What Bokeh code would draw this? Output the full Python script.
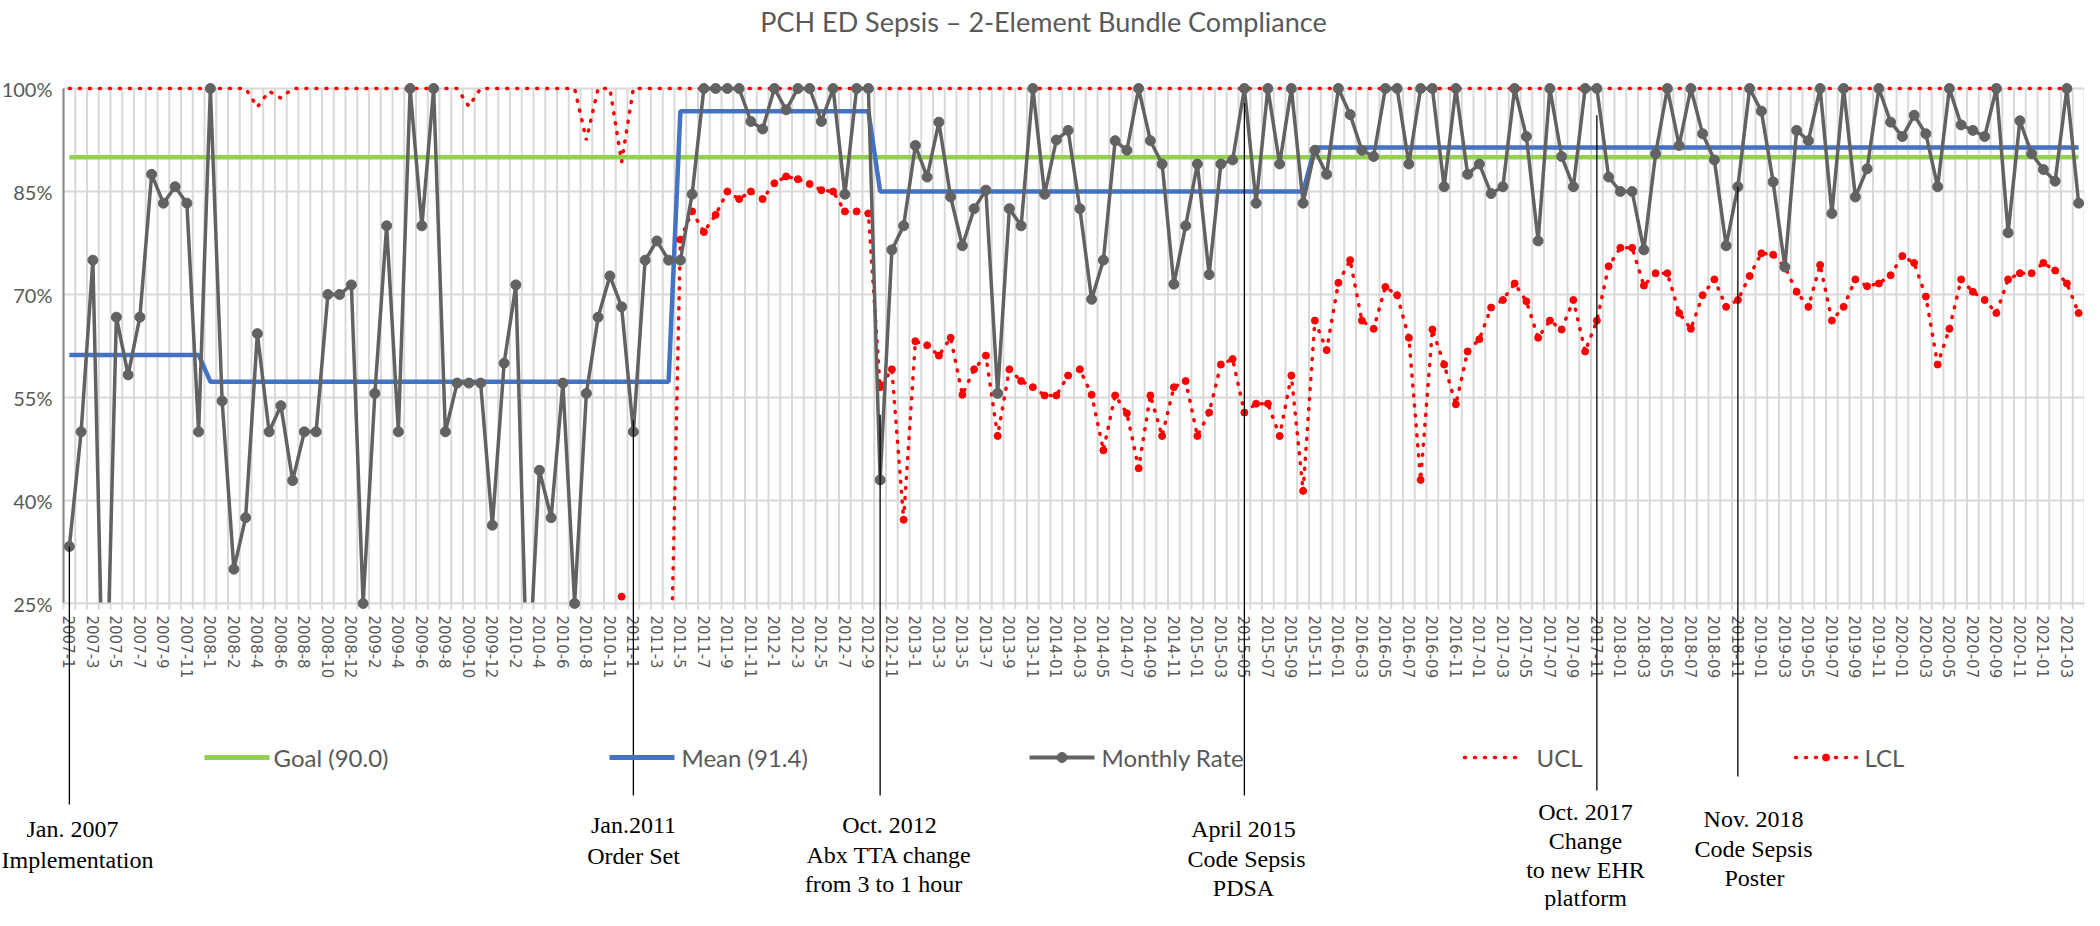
import math
from bokeh.plotting import figure
from bokeh.models import Range1d, Label
from bokeh.embed import file_html
from bokeh.resources import INLINE
from bokeh.core.properties import value

# ---------------- data ----------------
title_text = "PCH ED Sepsis \u2013 2-Element Bundle Compliance"

tick_labels = [
    "2007-1", "2007-3", "2007-5", "2007-7", "2007-9", "2007-11",
    "2008-1", "2008-2", "2008-4", "2008-6", "2008-8", "2008-10", "2008-12",
    "2009-2", "2009-4", "2009-6", "2009-8", "2009-10", "2009-12",
    "2010-2", "2010-4", "2010-6", "2010-8", "2010-11",
    "2011-1", "2011-3", "2011-5", "2011-7", "2011-9", "2011-11",
    "2012-1", "2012-3", "2012-5", "2012-7", "2012-9", "2012-11",
    "2013-1", "2013-3", "2013-5", "2013-7", "2013-9", "2013-11",
    "2014-01", "2014-03", "2014-05", "2014-07", "2014-09", "2014-11",
    "2015-01", "2015-03", "2015-05", "2015-07", "2015-09", "2015-11",
    "2016-01", "2016-03", "2016-05", "2016-07", "2016-09", "2016-11",
    "2017-01", "2017-03", "2017-05", "2017-07", "2017-09", "2017-11",
    "2018-01", "2018-03", "2018-05", "2018-07", "2018-09", "2018-11",
    "2019-01", "2019-03", "2019-05", "2019-07", "2019-09", "2019-11",
    "2020-01", "2020-03", "2020-05", "2020-07", "2020-09", "2020-11",
    "2021-01", "2021-03",
]

monthly_rate = [
    33.3, 50, 75, 0, 66.7, 58.3, 66.7, 87.5, 83.3, 85.7,
    83.3, 50, 100, 54.5, 30, 37.5, 64.3, 50, 53.8, 42.9,
    50, 50, 70, 70, 71.4, 25, 55.6, 80, 50, 100,
    80, 100, 50, 57.1, 57.1, 57.1, 36.4, 60, 71.4, 11.1,
    44.4, 37.5, 57.1, 25, 55.6, 66.7, 72.7, 68.2, 50, 75,
    77.8, 75, 75, 84.6, 100, 100, 100, 100, 95.2, 94.1,
    100, 96.9, 100, 100, 95.2, 100, 84.6, 100, 100, 43,
    76.5, 80, 91.7, 87.1, 95.1, 84.2, 77.1, 82.5, 85.2, 55.6,
    82.5, 80, 100, 84.6, 92.5, 93.9, 82.5, 69.3, 75, 92.4,
    91, 100, 92.4, 89, 71.5, 80, 89, 72.9, 89, 89.6,
    100, 83.3, 100, 89, 100, 83.3, 91, 87.5, 100, 96.2,
    91, 90.1, 100, 100, 89, 100, 100, 85.7, 100, 87.5,
    89, 84.7, 85.7, 100, 93, 77.8, 100, 90.1, 85.7, 100,
    100, 87.1, 85, 85, 76.5, 90.5, 100, 91.7, 100, 93.4,
    89.6, 77.1, 85.7, 100, 96.7, 86.4, 74, 93.9, 92.4, 100,
    81.8, 100, 84.2, 88.3, 100, 95.1, 93, 96.1, 93.4, 85.7,
    100, 94.7, 93.9, 93, 100, 79, 95.3, 90.5, 88.2, 86.5,
    100, 83.3,
]

ucl = [
    100, 100, 100, 100, 100, 100, 100, 100, 100, 100,
    100, 100, 100, 100, 100, 100, 97.3, 99.6, 98.6, 100,
    100, 100, 100, 100, 100, 100, 100, 100, 100, 100,
    100, 100, 100, 100, 97.4, 100, 100, 100, 100, 100,
    100, 100, 100, 100, 92.5, 100, 100, 89.3, 100, 100,
    100, 100, 100, 100, 100, 100, 100, 100, 100, 100,
    100, 100, 100, 100, 100, 100, 100, 100, 100, 100,
    100, 100, 100, 100, 100, 100, 100, 100, 100, 100,
    100, 100, 100, 100, 100, 100, 100, 100, 100, 100,
    100, 100, 100, 100, 100, 100, 100, 100, 100, 100,
    100, 100, 100, 100, 100, 100, 100, 100, 100, 100,
    100, 100, 100, 100, 100, 100, 100, 100, 100, 100,
    100, 100, 100, 100, 100, 100, 100, 100, 100, 100,
    100, 100, 100, 100, 100, 100, 100, 100, 100, 100,
    100, 100, 100, 100, 100, 100, 100, 100, 100, 100,
    100, 100, 100, 100, 100, 100, 100, 100, 100, 100,
    100, 100, 100, 100, 100, 100, 100, 100, 100, 100,
    100, 100,
]

lcl = [
    0, 0, 0, 0, 0, 0, 0, 0, 0, 0,
    0, 0, 0, 0, 0, 0, 0, 0, 0, 0,
    0, 0, 0, 0, 0, 0, 0, 0, 0, 0,
    0, 0, 0, 0, 0, 0, 0, 0, 0, 0,
    0, 0, 0, 0, 0, 0, 0, 26, 0, 0,
    0, 0, 78, 82.1, 79.1, 81.6, 85, 83.9, 85, 83.9,
    86.2, 87.2, 86.8, 86.1, 85.2, 85, 82.1, 82.1, 81.8, 56.5,
    59.1, 37.2, 63.2, 62.6, 61.1, 63.7, 55.4, 59.1, 61.1, 49.4,
    59.1, 57.4, 56.5, 55.3, 55.3, 58.2, 59.1, 55.4, 47.3, 55.3,
    52.7, 44.7, 55.3, 49.4, 56.5, 57.4, 49.4, 52.8, 59.8, 60.6,
    52.8, 54.1, 54.1, 49.4, 58.2, 41.4, 66.2, 61.9, 71.7, 75,
    66.2, 65, 71.1, 69.9, 63.7, 43, 64.9, 59.8, 54, 61.7,
    63.5, 68.1, 69.2, 71.6, 69, 63.7, 66.2, 64.9, 69.2, 61.7,
    66.2, 74.1, 76.8, 76.8, 71.3, 73.1, 73.1, 67.3, 65, 69.9,
    72.2, 68.2, 69.2, 72.7, 76, 75.8, 74, 70.4, 68.2, 74.3,
    66.2, 68.2, 72.2, 71.2, 71.6, 72.8, 75.6, 74.6, 69.7, 59.8,
    65, 72.2, 70.4, 69.2, 67.3, 72.2, 73.1, 73.1, 74.6, 73.5,
    71.6, 67.3,
]

goal_value = 90.0
mean_phase_start = [0, 12, 52, 69, 106]
mean_phase_value = [61.2, 57.3, 96.7, 85.0, 91.4]

y_ticks = [25, 40, 55, 70, 85, 100]
y_tick_labels = ["25%", "40%", "55%", "70%", "85%", "100%"]

legend_names = ["Goal (90.0)", "Mean (91.4)", "Monthly Rate", "UCL", "LCL"]

event_index = [0, 48, 69, 100, 130, 142]
event_top = [33.3, 51.7, 52.5, 97.9, 96.1, 85.7]
event_text = [
    ["Jan. 2007", "Implementation"],
    ["Jan.2011", "Order Set"],
    ["Oct. 2012", "Abx TTA change", "from 3 to 1 hour"],
    ["April 2015", "Code Sepsis", "PDSA"],
    ["Oct. 2017", "Change", "to new EHR", "platform"],
    ["Nov. 2018", "Code Sepsis", "Poster"],
]

# ---------------- layout (page pixels) ----------------
N = len(monthly_rate)
W, H = 2084, 910
PLOT_L, PLOT_R = 71.0, 2092.0          # page x of the category band
STEP = (PLOT_R - PLOT_L) / N
PY100, PY25 = 96.0, 611.0              # page y of 100% and 25%
K = (PY25 - PY100) / 75.0


def X(px):
    return -0.5 + (px - PLOT_L) / STEP


def Y(py):
    return 100.0 - (py - PY100) / K


GRID = "#d9d9d9"
TXT = "#595959"
GRAY = "#626262"
RED = "#FF0000"
GREEN = "#92D050"
BLUE = "#4472C4"

p = figure(width=W, height=H, output_backend="svg", toolbar_location=None, tools="",
           x_range=Range1d(X(8), X(8 + W)), y_range=Range1d(Y(8 + H), Y(8)),
           x_axis_location=None, y_axis_location=None,
           min_border_left=0, min_border_right=0, min_border_top=0, min_border_bottom=0)
p.outline_line_color = None
p.background_fill_color = "white"
p.border_fill_color = "white"
p.grid.visible = False

xs = list(range(N))

# gridlines
gx = [i - 0.5 for i in range(N + 1)]
p.segment(x0=gx, y0=[25] * len(gx), x1=gx, y1=[100] * len(gx), line_color=GRID, line_width=2)
p.segment(x0=[-0.5] * len(y_ticks), y0=y_ticks, x1=[N - 0.5] * len(y_ticks), y1=y_ticks,
          line_color=GRID, line_width=2)
p.segment(x0=[-0.5], y0=[25], x1=[-0.5], y1=[100], line_color="#8a8a8a", line_width=2)

# series
p.line([0, N - 1], [goal_value, goal_value], line_color=GREEN, line_width=4.5)
mean_vals = []
for i in range(N):
    v = mean_phase_value[0]
    for s, mv in zip(mean_phase_start, mean_phase_value):
        if i >= s:
            v = mv
    mean_vals.append(v)
p.line(xs, mean_vals, line_color=BLUE, line_width=4.5)
p.line(xs, ucl, line_color=RED, line_width=3.5, line_dash="1 9", line_cap="round")
p.line(xs, lcl, line_color=RED, line_width=3.5, line_dash="1 9", line_cap="round")
lx = [i for i in xs if lcl[i] >= 25]
p.scatter(lx, [lcl[i] for i in lx], size=7, fill_color=RED, line_color=RED)
p.line(xs, monthly_rate, line_color=GRAY, line_width=3.5, line_join="round")

# hide everything below the axis minimum (25%)
p.quad(left=[X(0)], right=[X(2200)], bottom=[Y(8 + H) - 5], top=[25], fill_color="white", line_color=None)
p.segment(x0=[-0.5], y0=[25], x1=[N - 0.5], y1=[25], line_color=GRID, line_width=2)
p.segment(x0=gx, y0=[25] * len(gx), x1=gx, y1=[Y(PY25 + 6)] * len(gx), line_color=GRID, line_width=2)

rx = [i for i in xs if monthly_rate[i] >= 25]
p.scatter(rx, [monthly_rate[i] for i in rx], size=10, fill_color=GRAY, line_color=GRAY)

# y tick labels
p.text(x=[X(60)] * len(y_ticks), y=y_ticks, text=y_tick_labels, text_align="right", text_baseline="middle",
       text_font=value("Lato"), text_font_size="20px", text_color=TXT)

# x tick labels (every other month)
p.text(x=[2 * k for k in range(len(tick_labels))], y=[Y(623)] * len(tick_labels), text=tick_labels,
       angle=-math.pi / 2, text_align="left", text_baseline="middle",
       text_font=value("DejaVu Sans"), text_font_size="15px", text_color=TXT)

# event lines
line_end = [812, 803, 803, 803, 798, 784]
for idx, top, end in zip(event_index, event_top, line_end):
    p.segment(x0=[idx], y0=[top], x1=[idx], y1=[Y(end)], line_color="black", line_width=1.3)

# event texts
text_cx = [[80, 85], [641, 641], [897, 897, 891], [1251, 1254, 1251], [1593, 1593, 1593, 1593], [1761, 1761, 1762]]
text_y = [[836, 867], [832, 863], [832, 862, 891], [836, 866, 895], [819, 848, 877, 905], [826, 856, 885]]
for lines, cxs, ys in zip(event_text, text_cx, text_y):
    for t, cx, yy in zip(lines, cxs, ys):
        p.add_layout(Label(x=X(cx), y=Y(yy), text=t, text_align="center",
                           text_baseline="middle", text_font="Liberation Serif",
                           text_font_size="24px", text_color="black"))

# legend
LY = Y(765)
seg_px = [(212, 277), (617, 682), (1037, 1102), (1472, 1531), (1803, 1864)]
txt_px = [281, 689, 1109, 1544, 1872]
p.segment(x0=[X(seg_px[0][0])], y0=[LY], x1=[X(seg_px[0][1])], y1=[LY], line_color=GREEN, line_width=5)
p.segment(x0=[X(seg_px[1][0])], y0=[LY], x1=[X(seg_px[1][1])], y1=[LY], line_color=BLUE, line_width=5)
p.segment(x0=[X(seg_px[2][0])], y0=[LY], x1=[X(seg_px[2][1])], y1=[LY], line_color=GRAY, line_width=4)
p.scatter([X(sum(seg_px[2]) / 2)], [LY], size=10, fill_color=GRAY, line_color=GRAY)
p.segment(x0=[X(seg_px[3][0])], y0=[LY], x1=[X(seg_px[3][1])], y1=[LY], line_color=RED, line_width=3.5,
          line_dash="1 9", line_cap="round")
p.segment(x0=[X(seg_px[4][0])], y0=[LY], x1=[X(seg_px[4][1])], y1=[LY], line_color=RED, line_width=3.5,
          line_dash="1 9", line_cap="round")
p.scatter([X(sum(seg_px[4]) / 2)], [LY], size=7, fill_color=RED, line_color=RED)
for name, tx in zip(legend_names, txt_px):
    p.add_layout(Label(x=X(tx), y=LY, text=name, text_align="left", text_baseline="middle",
                       text_font="Lato", text_font_size="24px", text_color=TXT))

# title
p.add_layout(Label(x=X(1051), y=Y(29), text=title_text, text_align="center", text_baseline="middle",
                   text_font="Lato", text_font_size="27px", text_color=TXT))

open("out.html", "w").write(file_html(p, INLINE))
